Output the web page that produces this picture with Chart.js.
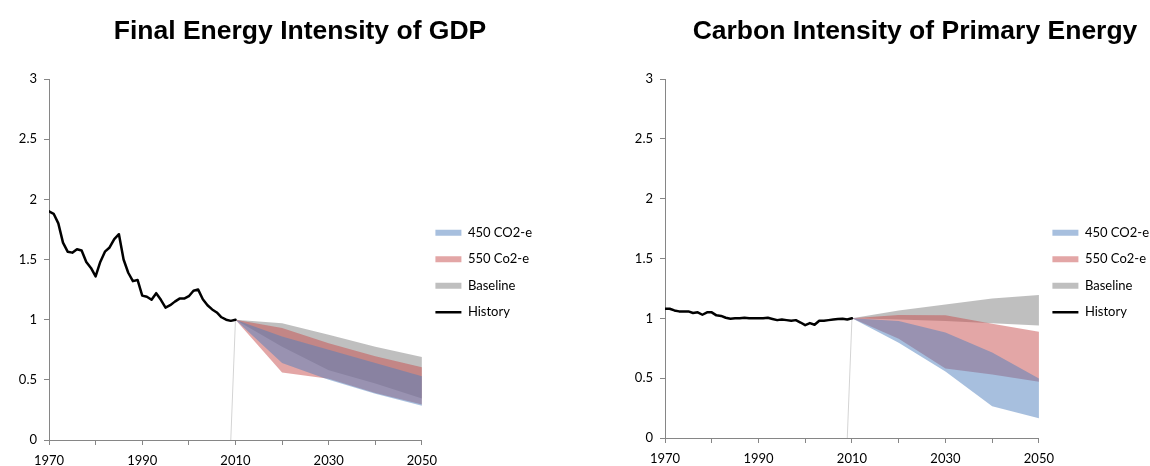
<!DOCTYPE html>
<html>
<head>
<meta charset="utf-8">
<script src="https://cdn.jsdelivr.net/npm/chart.js@4.4.1/dist/chart.umd.min.js"></script>
<style>
  html, body { margin: 0; padding: 0; background: #fff; }
  #page { position: relative; width: 1150px; height: 466px; overflow: hidden; background: #fff; }
  canvas { position: absolute; top: 0; }
  .title {
    position: absolute; top: 15px; height: 30px; line-height: 30px;
    text-align: center; font: bold 26.5px "Liberation Sans", Arial, sans-serif; color: #000;
    white-space: nowrap; z-index: 2;
  }
</style>
</head>
<body>
<div id="page">
  <canvas id="gdpChart" width="600" height="466" style="left:0;width:600px;height:466px"></canvas>
  <canvas id="carbonChart" width="560" height="466" style="left:600px;width:560px;height:466px"></canvas>
  <div class="title" style="left:0;width:600px">Final Energy Intensity of GDP</div>
  <div class="title" style="left:680px;width:470px">Carbon Intensity of Primary Energy</div>
</div>
<script>
// Historical years (annual)
const histYears = [1970, 1971, 1972, 1973, 1974, 1975, 1976, 1977, 1978, 1979,
                   1980, 1981, 1982, 1983, 1984, 1985, 1986, 1987, 1988, 1989,
                   1990, 1991, 1992, 1993, 1994, 1995, 1996, 1997, 1998, 1999,
                   2000, 2001, 2002, 2003, 2004, 2005, 2006, 2007, 2008, 2009, 2010];

// Final energy intensity of GDP, index 2010 = 1
const gdpHistory = [1.90, 1.88, 1.80, 1.64, 1.565, 1.557, 1.585, 1.575, 1.48, 1.43,
                    1.36, 1.48, 1.565, 1.60, 1.67, 1.71, 1.50, 1.39, 1.32, 1.33,
                    1.20, 1.19, 1.165, 1.22, 1.165, 1.10, 1.12, 1.15, 1.175, 1.175,
                    1.195, 1.24, 1.25, 1.17, 1.12, 1.085, 1.06, 1.02, 1.00, 0.99, 1.00];

// Carbon intensity of primary energy, index 2010 = 1
const carbonHistory = [1.08, 1.08, 1.066, 1.058, 1.058, 1.058, 1.045, 1.05, 1.03, 1.05,
                       1.05, 1.025, 1.02, 1.005, 0.997, 1.0, 1.0, 1.005, 1.0, 1.0,
                       1.0, 1.0, 1.005, 0.995, 0.985, 0.99, 0.985, 0.98, 0.985, 0.965,
                       0.943, 0.96, 0.946, 0.98, 0.98, 0.985, 0.99, 0.994, 0.996, 0.99, 1.00];

// Projection years
const projYears = [2010, 2020, 2030, 2040, 2050];

// Final energy intensity scenario ranges
const gdp450High  = [1.0, 0.86, 0.75, 0.64, 0.53];
const gdp450Low   = [1.0, 0.64, 0.50, 0.385, 0.285];
const gdp550High  = [1.0, 0.93, 0.805, 0.695, 0.605];
const gdp550Low   = [1.0, 0.56, 0.51, 0.39, 0.295];
const gdpBaseHigh = [1.0, 0.97, 0.875, 0.775, 0.69];
const gdpBaseLow  = [1.0, 0.775, 0.58, 0.47, 0.345];

// Carbon intensity scenario ranges
const carbon450High  = [1.0, 0.977, 0.882, 0.715, 0.498];
const carbon450Low   = [1.0, 0.795, 0.555, 0.265, 0.164];
const carbon550High  = [1.0, 1.027, 1.025, 0.955, 0.888];
const carbon550Low   = [1.0, 0.83, 0.58, 0.53, 0.47];
const carbonBaseHigh = [1.0, 1.065, 1.116, 1.166, 1.194];
const carbonBaseLow  = [1.0, 0.99, 0.978, 0.958, 0.94];

// Thin guide joining the axis to the 2010 index point
const guideYears = [2009, 2010];
const guideValues = [0, 1];

// Axis ticks
const labelledYears = [1970, 1990, 2010, 2030, 2050];
const yTickStep = 0.5;

const seriesNames = ['450 CO2-e', '550 Co2-e', 'Baseline', 'History'];

const COLORS = {
  s450: 'rgba(79,127,189,0.5)',
  s550: 'rgba(199,77,77,0.5)',
  base: 'rgba(127,127,127,0.5)',
  history: '#000000',
  guide: '#d4d4d4',
  axis: '#868686',
  text: '#000000'
};
const TICK_FONT = { family: 'Lato, "Open Sans", sans-serif', size: 13 };
const LEGEND_FONT = { family: 'Lato, "Open Sans", sans-serif', size: 13 };

const pts = (xs, ys) => xs.map((x, i) => ({ x: x, y: ys[i] }));

function band(label, data, color, target) {
  return {
    label: label, data: data, backgroundColor: color, borderColor: 'rgba(0,0,0,0)',
    borderWidth: 0, pointRadius: 0, fill: target, inLegend: true
  };
}
function bound(data) {
  return { label: '', data: data, borderColor: 'rgba(0,0,0,0)', borderWidth: 0,
           pointRadius: 0, fill: false, inLegend: false };
}

function buildChart(id, s, lay) {
  const datasets = [
    band(seriesNames[0], pts(projYears, s.hi450), COLORS.s450, 4),
    band(seriesNames[1], pts(projYears, s.hi550), COLORS.s550, 5),
    band(seriesNames[2], pts(projYears, s.hiBase), COLORS.base, 6),
    { label: seriesNames[3], data: pts(histYears, s.history), borderColor: COLORS.history,
      backgroundColor: COLORS.history, borderWidth: 2.5, pointRadius: 0, fill: false,
      borderJoinStyle: 'round', borderCapStyle: 'round', order: -1, inLegend: true, legendLine: true },
    bound(pts(projYears, s.lo450)),
    bound(pts(projYears, s.lo550)),
    bound(pts(projYears, s.loBase)),
    { label: '', data: pts(guideYears, guideValues), borderColor: COLORS.guide, borderWidth: 1,
      pointRadius: 0, fill: false, inLegend: false }
  ];

  return new Chart(document.getElementById(id), {
    type: 'line',
    data: { datasets: datasets },
    options: {
      responsive: false,
      devicePixelRatio: 1,
      animation: false,
      events: [],
      layout: { padding: { top: 79, right: lay.paddingRight, bottom: 0, left: 0 } },
      plugins: {
        title: { display: false },
        tooltip: { enabled: false },
        filler: { propagate: false },
        legend: {
          position: 'right',
          align: 'center',
          labels: {
            usePointStyle: true,
            pointStyleWidth: 26,
            boxHeight: 6,
            padding: 13.5,
            color: COLORS.text,
            font: LEGEND_FONT,
            generateLabels: (chart) => chart.data.datasets
              .map((ds, i) => ({
                text: ds.label,
                datasetIndex: i,
                hidden: false,
                fillStyle: ds.backgroundColor,
                strokeStyle: ds.borderColor,
                lineWidth: ds.legendLine ? 2.5 : 0,
                pointStyle: ds.legendLine ? 'line' : 'rect',
                fontColor: COLORS.text
              }))
              .filter(item => chart.data.datasets[item.datasetIndex].inLegend)
          }
        }
      },
      scales: {
        x: {
          type: 'linear',
          min: 1970, max: 2050,
          afterFit: (scale) => { scale.height = lay.xAxisHeight; },
          grid: { drawOnChartArea: false, drawTicks: true, tickLength: 5, color: COLORS.axis, lineWidth: 1 },
          border: { display: true, color: COLORS.axis, width: 1 },
          ticks: {
            stepSize: 10, autoSkip: false, maxRotation: 0, padding: 8,
            color: COLORS.text, font: TICK_FONT,
            callback: (v) => labelledYears.includes(v) ? String(v) : ''
          }
        },
        y: {
          min: 0, max: 3,
          afterFit: (scale) => { scale.width = lay.yAxisWidth; },
          grid: { drawOnChartArea: false, drawTicks: true, tickLength: 5, color: COLORS.axis, lineWidth: 1 },
          border: { display: true, color: COLORS.axis, width: 1 },
          ticks: { stepSize: yTickStep, padding: 7, color: COLORS.text, font: TICK_FONT,
                   callback: (v) => String(v) }
        }
      }
    }
  });
}

buildChart('gdpChart', {
  history: gdpHistory,
  hi450: gdp450High, lo450: gdp450Low,
  hi550: gdp550High, lo550: gdp550Low,
  hiBase: gdpBaseHigh, loBase: gdpBaseLow
}, { yAxisWidth: 49, xAxisHeight: 26, paddingRight: 58 });

buildChart('carbonChart', {
  history: carbonHistory,
  hi450: carbon450High, lo450: carbon450Low,
  hi550: carbon550High, lo550: carbon550Low,
  hiBase: carbonBaseHigh, loBase: carbonBaseLow
}, { yAxisWidth: 65, xAxisHeight: 28, paddingRight: 1 });
</script>
</body>
</html>
